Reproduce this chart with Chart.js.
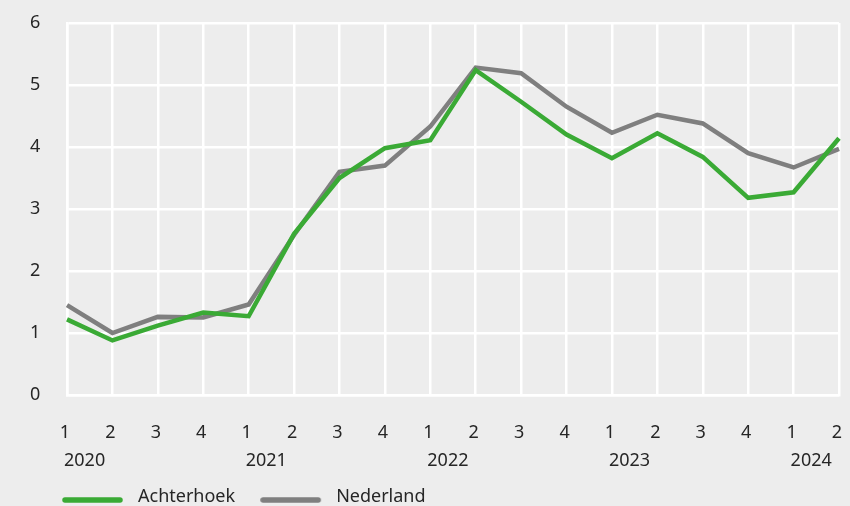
<!DOCTYPE html>
<html>
<head>
<meta charset="utf-8">
<script src="https://cdn.jsdelivr.net/npm/chart.js@4.4.1/dist/chart.umd.min.js"></script>
<style>
  html, body { margin: 0; padding: 0; background: #ededed; }
  #wrap { width: 850px; height: 506px; position: relative; }
</style>
</head>
<body>
<div id="wrap"><canvas id="c" width="850" height="506"></canvas></div>
<script>
// ---- data ----
const quarterLabels = ['1','2','3','4','1','2','3','4','1','2','3','4','1','2','3','4','1','2'];
const yearLabels    = ['2020','','','','2021','','','','2022','','','','2023','','','','2024',''];
const achterhoek = [1.22, 0.88, 1.12, 1.33, 1.27, 2.6, 3.5, 3.98, 4.11, 5.24, 4.73, 4.2, 3.82, 4.22, 3.84, 3.18, 3.27, 4.14];
const nederland  = [1.45, 1.0, 1.26, 1.25, 1.46, 2.58, 3.6, 3.7, 4.33, 5.28, 5.19, 4.65, 4.23, 4.52, 4.38, 3.9, 3.67, 3.97];
const yTicks = [0, 1, 2, 3, 4, 5, 6];

const GREEN = '#3aaa35';
const GREY = '#7f7f7f';
const FONT = '"Noto Sans", "Open Sans", sans-serif';
const TXT = '#262626';
const CLEAR = 'rgba(0,0,0,0)';

// legend marker: a rounded line with a gap before the text
function legendMarker(color) {
  const cv = document.createElement('canvas');
  cv.width = 67; cv.height = 12;
  const g = cv.getContext('2d');
  g.strokeStyle = color; g.lineWidth = 5.5; g.lineCap = 'round';
  g.beginPath(); g.moveTo(3, 9); g.lineTo(58, 9); g.stroke();
  return cv;
}

const legendNudge = {
  id: 'legendNudge',
  afterLayout(chart, args, opts) {
    const lg = chart.legend;
    if (!lg) return;
    lg.left += opts.dx;
    lg.top += opts.dy;
  }
};

new Chart(document.getElementById('c'), {
  type: 'line',
  data: {
    labels: quarterLabels,
    datasets: [
      { label: 'Achterhoek', data: achterhoek, borderColor: GREEN, backgroundColor: GREEN,
        borderWidth: 4.5, pointRadius: 0, pointHoverRadius: 0, tension: 0, xAxisID: 'x' },
      { label: 'Nederland', data: nederland, borderColor: GREY, backgroundColor: GREY,
        borderWidth: 4.5, pointRadius: 0, pointHoverRadius: 0, tension: 0, xAxisID: 'x' }
    ]
  },
  plugins: [legendNudge],
  options: {
    responsive: false,
    animation: false,
    layout: { padding: { left: 30, right: 11, top: 23, bottom: 0 } },
    scales: {
      x: {
        type: 'category', offset: false, position: 'bottom',
        grid: { color: '#ffffff', lineWidth: 2.5, drawTicks: true, tickLength: 27.2, tickColor: CLEAR },
        border: { color: '#ffffff', width: 2.5 },
        ticks: { color: TXT, font: { family: FONT, size: 18 }, padding: 0, autoSkip: false,
                 maxRotation: 0, labelOffset: -2 }
      },
      x2: {
        type: 'category', labels: yearLabels, offset: false, position: 'bottom',
        grid: { color: CLEAR, drawOnChartArea: false, drawTicks: true, tickLength: 6.6, tickColor: CLEAR },
        border: { display: false },
        ticks: { color: TXT, font: { family: FONT, size: 18 }, padding: 0, autoSkip: false,
                 maxRotation: 0, align: 'start', labelOffset: -3 }
      },
      y: {
        min: 0, max: 6,
        afterBuildTicks(scale) { scale.ticks = yTicks.map(v => ({ value: v })); },
        afterFit(scale) { scale.width = 37; },
        grid: { color: '#ffffff', lineWidth: 2.5, drawTicks: false },
        border: { color: '#ffffff', width: 2.5 },
        ticks: { color: TXT, font: { family: FONT, size: 18 }, padding: 0, crossAlign: 'far', labelOffset: 0 }
      }
    },
    plugins: {
      legendNudge: { dx: 7, dy: -9 },
      tooltip: { enabled: false },
      legend: {
        position: 'bottom', align: 'start', maxHeight: 34,
        labels: {
          color: TXT, font: { family: FONT, size: 18 },
          usePointStyle: true, pointStyleWidth: 67, boxHeight: 12,
          padding: 25,
          generateLabels(chart) {
            const items = Chart.defaults.plugins.legend.labels.generateLabels(chart);
            items.forEach(it => {
              it.pointStyle = legendMarker(it.strokeStyle);
              it.lineWidth = 0;
            });
            return items;
          }
        }
      }
    }
  }
});
</script>
</body>
</html>
